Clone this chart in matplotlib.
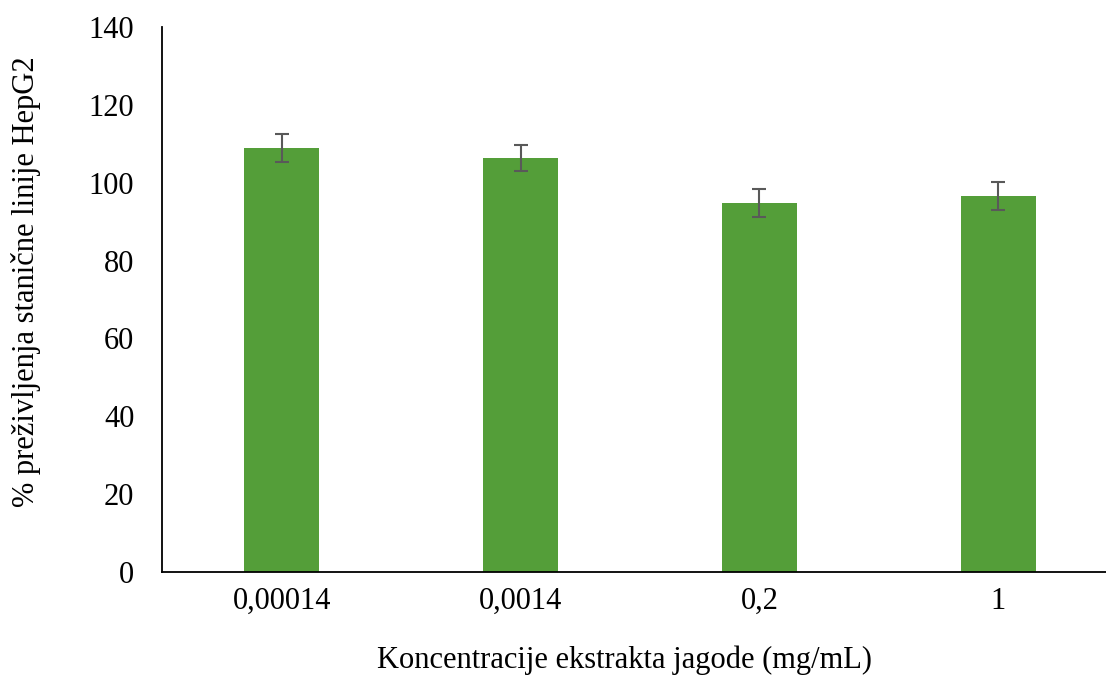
import matplotlib
matplotlib.use("Agg")
import matplotlib.pyplot as plt

# podaci ocitani sa slike
koncentracije = ["0,00014", "0,0014", "0,2", "1"]
prezivljenje = [108.9, 106.3, 94.8, 96.6]
greska = [3.5, 3.4, 3.5, 3.5]

plt.rcParams['font.family'] = ['Liberation Serif', 'DejaVu Serif']

fig = plt.figure(figsize=(11.06, 6.75), dpi=100)
ax = fig.add_axes([0.1465, 0.1526, 0.8535, 0.8074])

x = range(len(koncentracije))
ax.bar(x, prezivljenje, width=0.314, color='#549E39', zorder=2)
ax.errorbar(x, prezivljenje, yerr=greska, fmt='none', ecolor='#595959',
            elinewidth=1.5, capsize=4.7, capthick=1.5, zorder=3)

ax.set_xlim(-0.502, 3.452)
ax.set_ylim(0, 140)
ax.set_yticks(range(0, 141, 20))
ax.set_xticks(list(x))
ax.set_xticklabels(koncentracije)
ax.tick_params(axis='y', length=0, pad=20, labelsize=22)
ax.tick_params(axis='x', length=0, pad=11, labelsize=22)

for s in ['top', 'right']:
    ax.spines[s].set_visible(False)
ax.spines['left'].set_linewidth(1.3)
ax.spines['bottom'].set_linewidth(1.3)

ax.set_xlabel("Koncentracije ekstrakta jagode (mg/mL)", fontsize=22)
ax.xaxis.set_label_coords(0.49, -0.135)
ax.set_ylabel("% preživljenja stanične linije HepG2", fontsize=22)
ax.yaxis.set_label_coords(-0.128, 0.533)

fig.savefig("out.png", dpi=100)
